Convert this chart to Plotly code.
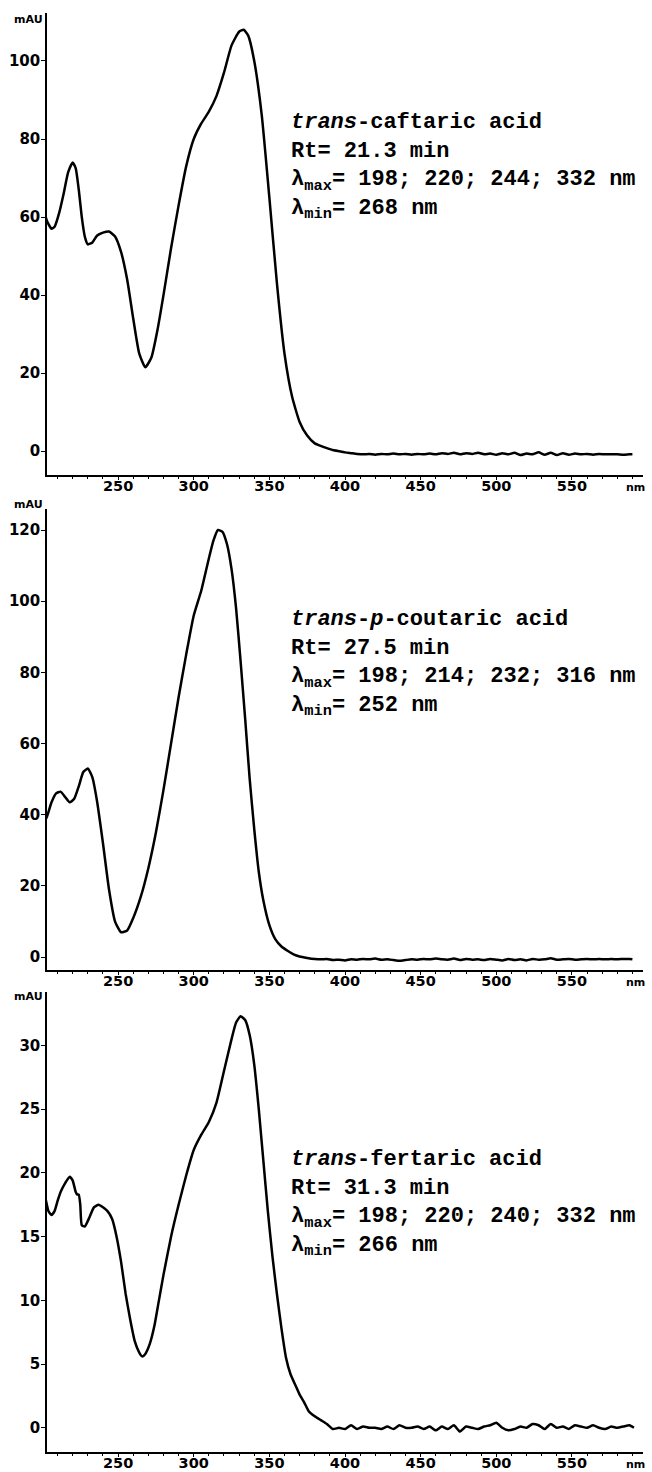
import plotly.graph_objects as go

# ---------------- data ----------------
# Panel 1: trans-caftaric acid
wl1 = [200, 203, 206, 208, 211, 214, 217, 220, 222, 224, 226, 228, 230, 233, 236, 240, 244, 248,
       252, 256, 260, 264, 268, 272, 276, 280, 285, 290, 295, 300, 305, 310, 315, 320, 325, 330,
       333, 336, 340, 345, 350, 355, 360, 365, 370, 375, 380, 383,
       388, 392, 396, 400, 404, 408, 412, 416, 420, 424, 428, 432, 436, 440, 444, 448, 452, 456,
       460, 464, 468, 472, 476, 480, 484, 488, 492, 496, 500, 504, 508, 512, 516, 520, 524, 528,
       532, 536, 540, 544, 548, 552, 556, 560, 564, 568, 572, 576, 580, 584, 588, 590]
abs1 = [63, 59, 57, 57.5, 61, 66, 71.5, 74, 72.5, 67, 60, 55, 53, 53.5, 55.2, 56, 56.3, 55,
        51, 44, 34, 25, 21.5, 24, 31, 40, 52, 63, 73, 80, 84, 87, 91, 97, 104, 107.5,
        108, 106.5, 100, 86, 65, 43, 25, 14, 7.5, 4, 2, 1.5,
        0.8, 0.3, 0.0, -0.3, -0.5, -0.7, -0.8, -0.7, -0.9, -0.7, -0.8, -0.6, -0.8, -0.7, -0.9, -0.7, -0.8, -0.6,
        -0.8, -0.5, -0.7, -0.4, -0.8, -0.5, -0.7, -0.4, -0.8, -0.6, -0.9, -0.5, -0.8, -0.4, -1.0, -0.6, -0.8, -0.3,
        -0.9, -0.4, -1.0, -0.5, -0.9, -0.6, -0.8, -0.7, -0.9, -0.7, -0.8, -0.8, -0.8, -0.9, -0.8, -0.8]

# Panel 2: trans-p-coutaric acid
wl2 = [200, 203, 206, 209, 212, 215, 218, 221, 224, 227, 230, 233, 236, 240, 244, 248, 252, 256,
       260, 265, 270, 275, 280, 285, 290, 295, 300, 305, 310, 313, 316, 319, 322, 325, 328, 331,
       334, 337, 340, 343, 346, 350, 354, 358, 362, 366, 370, 375,
       380, 384, 388, 392, 396, 400, 404, 408, 412, 416, 420, 424, 428, 432, 436, 440, 444, 448,
       452, 456, 460, 464, 468, 472, 476, 480, 484, 488, 492, 496, 500, 504, 508, 512, 516, 520,
       524, 528, 532, 536, 540, 544, 548, 552, 556, 560, 564, 568, 572, 576, 580, 584, 588, 590]
abs2 = [37, 39.5, 43.5, 46, 46.5, 45, 43.5, 44.5, 48, 52, 53, 50.5, 44, 32, 19, 10, 7, 7.5,
        11, 17, 25, 35, 47, 60, 73, 85, 96, 103, 112, 117, 120, 119.5, 116, 109, 98, 83,
        67, 50, 36, 24, 16, 9, 5, 3, 1.8, 0.8, 0.2, -0.2,
        -0.5, -0.6, -0.5, -0.8, -0.7, -0.9, -0.6, -0.7, -0.5, -0.6, -0.4, -0.7, -0.6, -0.8, -1.0, -0.8, -0.6, -0.7,
        -0.5, -0.6, -0.4, -0.6, -0.7, -0.4, -0.8, -0.5, -0.7, -0.6, -0.8, -0.5, -0.7, -0.9, -0.5, -0.8, -0.6, -0.9,
        -0.5, -0.7, -0.6, -0.3, -0.7, -0.6, -0.5, -0.7, -0.6, -0.5, -0.6, -0.5, -0.6, -0.5, -0.6, -0.5, -0.5, -0.6]

# Panel 3: trans-fertaric acid
wl3 = [200, 202, 204, 206, 208, 210, 212, 215, 218, 220, 222, 223, 224, 225, 226, 228, 231, 234,
       237, 240, 243, 246, 249, 252, 255, 258, 261, 264, 266, 268, 271, 274, 277, 280, 285, 290,
       295, 300, 305, 310, 315, 320, 325, 328, 331, 334, 337, 340, 343, 346, 349, 352, 355, 358,
       361, 364, 367, 370, 373, 376, 380, 384, 388, 392, 396,
       400, 404, 408, 412, 416, 420, 424, 428, 432, 436, 440, 444, 448, 452, 456, 460, 464, 468,
       472, 476, 480, 484, 488, 492, 496, 500, 504, 508, 512, 516, 520, 524, 528, 532, 536, 540,
       544, 548, 552, 556, 560, 564, 568, 572, 576, 580, 584, 588, 591]
abs3 = [19, 18, 17, 16.7, 17, 17.8, 18.5, 19.2, 19.7, 19.4, 18.5, 18.3, 18.3, 17.5, 15.9, 15.8, 16.5, 17.3,
        17.5, 17.3, 17, 16.4, 15, 13, 10.5, 8.5, 6.8, 5.9, 5.6, 5.8, 6.6, 8, 10, 12, 15, 17.5,
        19.8, 21.8, 23, 24, 25.5, 28, 30.5, 31.8, 32.3, 32, 30.8, 28.5, 25, 21, 17, 13.5, 10.5, 7.8,
        5.5, 4.2, 3.4, 2.6, 2.0, 1.3, 0.9, 0.6, 0.3, -0.1, 0.0,
        -0.1, 0.2, -0.1, 0.1, 0.0, 0.0, -0.1, 0.1, -0.1, 0.2, 0.0, 0.0, 0.1, -0.1, 0.1, -0.2, 0.1, -0.1,
        0.2, -0.3, 0.1, 0.0, -0.1, 0.1, 0.2, 0.4, 0.0, -0.2, -0.1, 0.1, 0.0, 0.3, 0.2, -0.1, 0.3, 0.0,
        0.1, -0.1, 0.2, 0.1, 0.0, 0.2, 0.0, -0.1, 0.1, 0.0, 0.1, 0.2, 0.0]

x_ticks = [250, 300, 350, 400, 450, 500, 550]
y_ticks1 = [0, 20, 40, 60, 80, 100]
y_ticks2 = [0, 20, 40, 60, 80, 100, 120]
y_ticks3 = [0, 5, 10, 15, 20, 25, 30]

titles = ["<i>trans</i>-caftaric acid", "<i>trans</i>-<i>p</i>-coutaric acid", "<i>trans</i>-fertaric acid"]
rts = ["21.3", "27.5", "31.3"]
lmax = ["198; 220; 244; 332", "198; 214; 232; 316", "198; 220; 240; 332"]
lmin = ["268", "252", "266"]

# ---------------- figure ----------------
W, H = 652, 1472
ML, MR, MT, MB = 47, 9, 13, 20
PH = H - MT - MB
PW = W - ML - MR

def frac(py):
    return (H - MB - py) / PH

domains = [[frac(475), 1.0], [frac(970), frac(509)], [0.0, frac(992)]]
yranges = [[-6.1, 112.3], [-3.6, 125.9], [-1.9, 34.2]]
yticks = [y_ticks1, y_ticks2, y_ticks3]
datasets = [(wl1, abs1), (wl2, abs2), (wl3, abs3)]

fig = go.Figure()
ytickfont = dict(family="DejaVu Sans", size=15, color="black", weight="bold")
xtickfont = dict(family="DejaVu Sans", size=14.5, color="black", weight="bold")

layout = dict(width=W, height=H, margin=dict(l=ML, r=MR, t=MT, b=MB, autoexpand=False),
              plot_bgcolor="white", paper_bgcolor="white", showlegend=False)

annotations = []
text_tops = [108, 605, 1145]
mau_y = [19, 505, 997]
for i, (wl, ab) in enumerate(datasets):
    sfx = "" if i == 0 else str(i + 1)
    fig.add_trace(go.Scatter(x=wl, y=ab, mode="lines", xaxis="x" + sfx, yaxis="y" + sfx,
                             hoverinfo="skip",
                             line=dict(color="black", width=2.5, shape="spline", smoothing=0.5)))
    layout["xaxis" + sfx] = dict(domain=[0, 1], anchor="y" + sfx, range=[203, 597], automargin=False,
                                 tickvals=x_ticks, ticks="outside", ticklen=3, tickwidth=1.2,
                                 tickcolor="black", showline=True, linecolor="black", linewidth=1.5,
                                 showgrid=False, zeroline=False, tickfont=xtickfont,
                                 ticklabelstandoff=-6,
                                 minor=dict(dtick=10, tick0=200, ticks="outside", ticklen=2,
                                            tickcolor="black", tickwidth=1))
    layout["yaxis" + sfx] = dict(domain=domains[i], anchor="x" + sfx, range=yranges[i], automargin=False,
                                 tickvals=yticks[i], ticks="outside", ticklen=4, tickwidth=1.2,
                                 tickcolor="black", showline=True, linecolor="black", linewidth=1.5,
                                 showgrid=False, zeroline=False, tickfont=ytickfont,
                                 ticklabelstandoff=-2)
    # mAU label
    annotations.append(dict(text="<b>mAU</b>", xref="paper", x=0, xanchor="right", xshift=-2,
                            yref="paper", y=frac(mau_y[i]), yanchor="middle", showarrow=False,
                            font=dict(family="DejaVu Sans", size=11, color="black")))
    # nm label
    annotations.append(dict(text="<b>nm</b>", xref="paper", x=(635 - ML) / PW,
                            xanchor="center", yref="y" + sfx + " domain", y=0, yanchor="top",
                            yshift=-4, showarrow=False,
                            font=dict(family="DejaVu Sans", size=11, color="black")))
    # info text
    txt = ("<b>" + titles[i] + "<br>Rt= " + rts[i] + " min<br>"
           "λ<sub>max</sub>= " + lmax[i] + " nm<br>λ<sub>min</sub>= " + lmin[i] + " nm</b>")
    annotations.append(dict(text=txt, xref="paper", x=(289 - ML) / PW, xanchor="left",
                            yref="paper", y=frac(text_tops[i]), yanchor="top", align="left",
                            showarrow=False,
                            font=dict(family="Liberation Mono", size=22, color="black")))

layout["annotations"] = annotations
fig.update_layout(**layout)
fig.write_html("out.html", config={"displayModeBar": False},
               post_script="document.body.style.margin='0';document.body.style.overflow='hidden';")
